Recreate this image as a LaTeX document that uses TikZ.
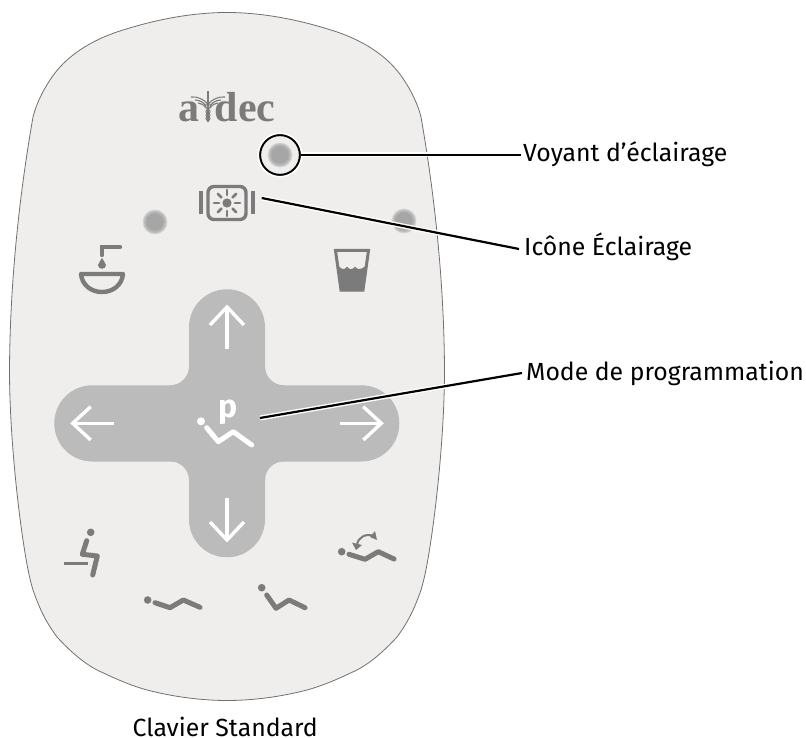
\documentclass[tikz,border=0pt]{standalone}
\usepackage{fontspec}
\usetikzlibrary{calc}
\setmainfont{Fira Sans}
\newfontfamily\logofont{Liberation Serif}
\definecolor{panelfill}{HTML}{EFEEEC}
\definecolor{panelline}{HTML}{707070}
\definecolor{crossfill}{HTML}{BBBBBB}
\definecolor{icongray}{HTML}{7B7B7B}
\definecolor{ledgray}{HTML}{A6A6A6}
\tikzset{
  iconline/.style={draw=icongray,line width=5pt,line cap=round,line join=round},
  whiteline/.style={draw=white,line width=5pt,line cap=round,line join=round},
  arrowline/.style={draw=white,line width=3.4pt,line join=miter},
  iconhead/.style={fill=icongray,circle,inner sep=0pt,minimum size=7.6pt},
  whitehead/.style={fill=white,circle,inner sep=0pt,minimum size=7.6pt},
  halo/.style={draw=white,line width=5pt},
  leader/.style={draw=black,line width=2.2pt},
  callout/.style={font=\fontsize{24.8}{28}\selectfont,anchor=base west,inner sep=0pt,text=black},
  logotext/.style={text=icongray,font=\logofont\bfseries\fontsize{42}{42}\selectfont,anchor=base west,inner sep=0pt},
}
\newcommand{\ledspot}[2]{%
  \foreach \rr in {12.5,11.8,...,8.6}
    \fill[ledgray,opacity=0.28] (#1,#2) circle (\rr pt);
  \fill[ledgray] (#1,#2) circle (8.6pt);
}
\begin{document}
\begin{tikzpicture}[x=1pt,y=-1pt]
\useasboundingbox (0,0) rectangle (806,738);
% panel
\draw[fill=panelfill,draw=panelline,line width=0.8pt]
 (227,12.5) .. controls (265,12.5) and (305,21) .. (340,33)
 .. controls (362,41) and (388,55) .. (404,80)
 .. controls (412,92) and (418,105) .. (421,117)
 .. controls (432,180) and (444,270) .. (444.5,370)
 .. controls (444.5,430) and (437,500) .. (431,540)
 .. controls (428,560) and (425,577) .. (421,590)
 .. controls (414,610) and (408,622) .. (397,637)
 .. controls (385,650) and (372,662) .. (357,670)
 .. controls (340,678) and (325,685) .. (307,690)
 .. controls (280,697) and (252,700.5) .. (227,700.5)
 .. controls (202,700.5) and (174,697) .. (147,690)
 .. controls (129,685) and (114,678) .. (97,670)
 .. controls (82,662) and (69,650) .. (57,637)
 .. controls (46,622) and (40,610) .. (33,590)
 .. controls (29,577) and (26,560) .. (23,540)
 .. controls (17,500) and (9.5,430) .. (9.5,370)
 .. controls (10,270) and (22,180) .. (33,117)
 .. controls (36,105) and (42,92) .. (50,80)
 .. controls (66,55) and (92,41) .. (114,33)
 .. controls (149,21) and (189,12.5) .. (227,12.5) -- cycle;
% cross
\fill[crossfill,rounded corners=37.9pt] (189,289.3) rectangle (265,557.3);
\fill[crossfill,rounded corners=37.9pt] (54.3,385.3) rectangle (399.3,461.5);
\foreach \sx in {1,-1} \foreach \sy in {1,-1}
  \fill[crossfill,shift={(227,423.3)},xscale=\sx,yscale=\sy]
    (-57,-38) .. controls (-46.5,-38) and (-38,-46.5) .. (-38,-57) -- (-37,-57) -- (-37,-37) -- (-57,-37) -- cycle;
% cross arrows
\draw[arrowline] (114,423.3) -- (72.7,423.3);
\draw[arrowline] (90.7,406.7) -- (72.7,423.3) -- (90.7,440);
\draw[arrowline] (340,423.3) -- (381.3,423.3);
\draw[arrowline] (363.3,406.7) -- (381.3,423.3) -- (363.3,440);
\draw[arrowline] (227,349) -- (227,307);
\draw[arrowline] (210,325) -- (227,307) -- (244,325);
\draw[arrowline] (227,498) -- (227,540);
\draw[arrowline] (210,522) -- (227,540) -- (244,522);
% programme icon
\node[whitehead,minimum size=8pt] (ph) at (201,421.3) {};
\draw[whiteline] (206.7,427.7) -- (218.3,441.7) -- (233.3,431.7) -- (251.7,445);
\node[text=white,font=\fontsize{32}{32}\selectfont\bfseries,anchor=base,inner sep=0pt] (pl) at (228.5,417.5) {p};
% LEDs
\ledspot{155}{222}
\ledspot{404}{221}
\ledspot{280}{155}
% logo
\node[logotext] (la) at (178,122) {a};
\node[logotext] (ld) at (214.5,122) {dec};
\draw[icongray,line width=1.3pt] (208,91) -- (208,122);
\draw[icongray,line width=1.1pt] (191,97) .. controls (198,96) and (204,100) .. (208,104) .. controls (212,100) and (218,96) .. (225,97);
\draw[icongray,line width=1.1pt] (195,100) .. controls (200,100) and (204,103) .. (206,106);
\draw[icongray,line width=1.1pt] (221,100) .. controls (216,100) and (212,103) .. (210,106);
\draw[icongray,line width=1.1pt] (198,103) .. controls (201,103) and (204,105) .. (206,108);
\draw[icongray,line width=1.1pt] (218,103) .. controls (215,103) and (212,105) .. (210,108);
\draw[icongray,line width=1pt] (208,106) circle (2.6pt);
\foreach \yy in {111.5,115,118.5} \draw[icongray,line width=1pt] (208,\yy) circle (2pt);
% light icon
\draw[icongray,line width=3.4pt,rounded corners=6pt] (208,186.5) rectangle (246,219.5);
\draw[icongray,line width=3.8pt] (201,191) -- (201,214);
\draw[icongray,line width=3.8pt] (253,191) -- (253,214);
\fill[icongray] (227,203) circle (4.6pt);
\foreach \aa in {0,45,...,315}
  \draw[icongray,line width=2.8pt,line cap=round] ($(227,203)+(\aa:8)$) -- ($(227,203)+(\aa:13)$);
% basin icon
\draw[icongray,line width=4.4pt,line join=round] (81,274) -- (123,274) .. controls (122,285) and (113,292) .. (102,292) .. controls (91,292) and (82,285) .. (81,274) -- cycle;
\draw[icongray,line width=4.4pt,line cap=round] (102,255) -- (102,247) -- (120,247);
\fill[icongray] (102,258) .. controls (102.5,261) and (106,262) .. (106,265) .. controls (106,270) and (98,270) .. (98,265) .. controls (98,262) and (101.5,261) .. (102,258) -- cycle;
% glass icon
\fill[icongray] (338.6,266) .. controls (342,270) and (345,270) .. (347,266.5) .. controls (349,270) and (353,270) .. (355,266.5) .. controls (357,270) and (361,270) .. (365.5,266) -- (363,291) -- (341,291) -- cycle;
\draw[icongray,line width=3pt,line join=miter] (335.5,250.5) -- (368.5,250.5) -- (363,290) -- (341,290) -- cycle;
% chair icons
\node[iconhead] (h1) at (90.7,532.3) {};
\draw[iconline] (86.7,540.7) -- (82.3,554.3) -- (97.3,556) -- (92.7,575);
\draw[icongray,line width=3pt] (64,563.3) -- (88.3,563.3);
\node[iconhead] (h2) at (147.7,600) {};
\draw[iconline] (155,602.7) -- (170,607.7) -- (183.3,600) -- (200,607.3);
\node[iconhead] (h3) at (261.7,587.7) {};
\draw[iconline] (266.7,595) -- (276,608.3) -- (289,600) -- (305,607.7);
\node[iconhead] (h4) at (341.7,551.7) {};
\draw[iconline] (349,554.3) -- (365,559.3) -- (378.3,551.7) -- (394,559);
\draw[icongray,line width=2pt] (357,545) .. controls (358,537) and (366,533) .. (374,536);
\fill[icongray] (352,542.5) -- (362,545) -- (356,550) -- cycle;
\fill[icongray] (375,531) -- (377,540) -- (370,537) -- cycle;
% callouts
\node[callout] (t1) at (523,161.7) {Voyant d’éclairage};
\node[callout] (t2) at (524,255) {Icône Éclairage};
\node[callout] (t3) at (526,380.7) {Mode de programmation};
\node[callout] (t4) at (132.5,736) {Clavier Standard};
\node[circle,draw=black,line width=2.2pt,minimum size=40pt,inner sep=0pt] (ring) at (280,155) {};
\draw[white,line width=1.6pt] (280,155) circle (21.8pt);
\coordinate (c2) at (261.7,198);
\coordinate (c3) at (260,418);
\coordinate (e1) at (521,155);
\coordinate (e2) at (519,249);
\coordinate (e3) at (522,373);
\draw[halo] (ring.east) -- (e1);
\draw[leader] (ring.east) -- (e1);
\draw[halo] (c2) -- (e2);
\draw[leader] (c2) -- (e2);
\draw[halo] (c3) -- (e3);
\draw[leader] (c3) -- (e3);
\end{tikzpicture}
\end{document}
